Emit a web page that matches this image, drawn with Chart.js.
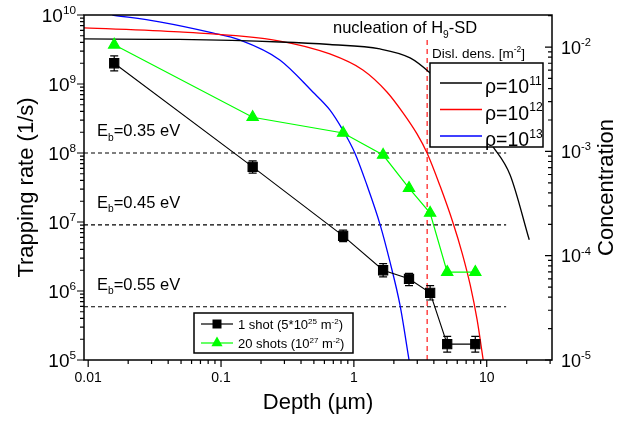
<!DOCTYPE html>
<html>
<head>
<meta charset="utf-8">
<script src="https://cdn.jsdelivr.net/npm/chart.js@4.4.1/dist/chart.umd.min.js"></script>
<style>
html, body { margin: 0; padding: 0; background: #fff; }
#contenitore { width: 626px; height: 422px; }
</style>
</head>
<body>
<div id="contenitore"><canvas id="grafico" width="626" height="422"></canvas></div>
<script>
// --- dati ---
const profondita = [0.0157, 0.173, 0.83, 1.66, 2.6, 3.75, 5.04, 8.2];
const rate1shot = [2.0e9, 6.3e7, 6.3e6, 2.0e6, 1.5e6, 9.4e5, 1.7e5, 1.7e5];
const rate1shotMin = [1.55e9, 5.1e7, 5.2e6, 1.6e6, 1.2e6, 7.4e5, 1.3e5, 1.3e5];
const rate1shotMax = [2.55e9, 7.7e7, 7.6e6, 2.5e6, 1.8e6, 1.2e6, 2.2e5, 2.2e5];
const rate20shots = [3.7e9, 3.3e8, 1.95e8, 9.35e7, 3.1e7, 1.35e7, 1.88e6, 1.88e6];

// curve di concentrazione (asse destro)
const rho11X = [0.0093, 0.0486, 0.277, 0.659, 1.571, 2.65, 3.75, 6.31, 11.2, 15.0, 20.9];
const rho11Y = [0.01196, 0.01183, 0.01119, 0.01059, 0.00959, 0.00787, 0.00564, 0.00285, 0.0011, 0.000594, 0.000142];
const rho12X = [0.0093, 0.0486, 0.277, 0.659, 1.169, 1.774, 2.344, 2.987, 3.555, 4.457, 5.58, 6.53, 7.51, 8.47, 9.41];
const rho12Y = [0.01525, 0.01396, 0.01143, 0.00859, 0.00603, 0.00371, 0.00234, 0.00147, 0.000966, 0.000465, 0.000206, 0.000106, 0.0000524, 0.0000242, 0.00001];
const rho13X = [0.0152, 0.0344, 0.0863, 0.138, 0.277, 0.491, 0.659, 0.826, 1.017, 1.253, 1.571, 1.87, 2.223, 2.602];
const rho13Y = [0.0203, 0.01742, 0.01365, 0.0117, 0.00752, 0.00371, 0.0025, 0.0016, 0.000966, 0.000476, 0.000201, 0.0000871, 0.0000337, 0.00001];

// energie di legame
const ebEtichette = ['0.35', '0.45', '0.55'];
const ebRate = [1e8, 9.1e6, 5.9e5];
const ebFine = 14;
const nucleazioneX = 3.56;

// assi
const xTick = [0.01, 0.1, 1, 10];
const xTickLabel = ['0.01', '0.1', '1', '10'];
const yEsponenti = [5, 6, 7, 8, 9, 10];
const y2Esponenti = [-5, -4, -3, -2];
const rhoEsponenti = ['11', '12', '13'];
const rhoColori = ['#000000', '#ff0000', '#0000ff'];

const FONT = '"Liberation Sans", Arial, Helvetica, sans-serif';
const X_MIN = 0.0093, X_MAX = 31;

function punti(xs, ys) {
    return xs.map((x, i) => ({ x: x, y: ys[i] }));
}

// testo con apici / pedici
function testoRicco(ctx, parti, x, y, size, align) {
    const misure = parti.map(([t, tipo]) => {
        ctx.font = (tipo ? size * 0.62 : size) + 'px ' + FONT;
        return ctx.measureText(t).width;
    });
    const tot = misure.reduce((a, b) => a + b, 0);
    let cx = align === 'right' ? x - tot : (align === 'center' ? x - tot / 2 : x);
    ctx.textAlign = 'left';
    ctx.textBaseline = 'alphabetic';
    parti.forEach(([t, tipo], i) => {
        ctx.font = (tipo ? size * 0.62 : size) + 'px ' + FONT;
        let dy = 0;
        if (tipo === 'sup') dy = -size * 0.42;
        if (tipo === 'sub') dy = size * 0.28;
        ctx.fillText(t, cx, y + dy);
        cx += misure[i];
    });
}

const barreErrore = {
    id: 'barreErrore',
    beforeDatasetDraw(chart, args) {
        if (args.index !== 0) return;
        const ctx = chart.ctx;
        const sx = chart.scales.x, sy = chart.scales.y;
        ctx.save();
        ctx.strokeStyle = '#000';
        ctx.lineWidth = 1.2;
        ctx.beginPath();
        for (let i = 0; i < profondita.length; i++) {
            const px = sx.getPixelForValue(profondita[i]);
            const y1 = sy.getPixelForValue(rate1shotMin[i]);
            const y2 = sy.getPixelForValue(rate1shotMax[i]);
            ctx.moveTo(px, y1); ctx.lineTo(px, y2);
            ctx.moveTo(px - 4, y1); ctx.lineTo(px + 4, y1);
            ctx.moveTo(px - 4, y2); ctx.lineTo(px + 4, y2);
        }
        ctx.stroke();
        ctx.restore();
    }
};

const assiPlugin = {
    id: 'assiPlugin',
    afterDatasetsDraw(chart) {
        const { ctx, chartArea: a } = chart;
        const sx = chart.scales.x, sy = chart.scales.y, sy2 = chart.scales.y2;
        ctx.save();
        ctx.fillStyle = '#000';
        ctx.strokeStyle = '#000';

        // tacche
        ctx.lineWidth = 1.2;
        ctx.beginPath();
        for (let e = 5; e <= 10; e++) {
            for (let k = 1; k <= 9; k++) {
                const v = k * Math.pow(10, e);
                if (v > sy.max * 1.001) continue;
                const py = sy.getPixelForValue(v);
                ctx.moveTo(a.left, py); ctx.lineTo(a.left - (k === 1 ? 7 : 4), py);
            }
        }
        for (let e = -3; e <= 1; e++) {
            for (let k = 1; k <= 9; k++) {
                const v = k * Math.pow(10, e);
                if (v < X_MIN || v > X_MAX) continue;
                const px = sx.getPixelForValue(v);
                ctx.moveTo(px, a.bottom); ctx.lineTo(px, a.bottom + (k === 1 ? 7 : 4));
            }
        }
        for (let e = -5; e <= -2; e++) {
            for (let k = 1; k <= 9; k++) {
                const v = k * Math.pow(10, e);
                if (v > sy2.max * 1.001) continue;
                const py = sy2.getPixelForValue(v);
                ctx.moveTo(a.right, py); ctx.lineTo(a.right - (k === 1 ? 7 : 4), py);
            }
        }
        ctx.stroke();

        // etichette
        yEsponenti.forEach(e => {
            const py = sy.getPixelForValue(Math.pow(10, e));
            testoRicco(ctx, [['10', ''], [String(e), 'sup']], a.left - 8, py + 7, 19, 'right');
        });
        y2Esponenti.forEach(e => {
            const py = sy2.getPixelForValue(Math.pow(10, e));
            testoRicco(ctx, [['10', ''], [String(e), 'sup']], a.right + 9, py + 6.5, 18, 'left');
        });
        ctx.font = '14px ' + FONT;
        ctx.textAlign = 'center';
        ctx.textBaseline = 'alphabetic';
        xTick.forEach((v, i) => {
            ctx.fillText(xTickLabel[i], sx.getPixelForValue(v), a.bottom + 22);
        });

        // titoli assi
        ctx.font = '22px ' + FONT;
        ctx.textAlign = 'center';
        ctx.textBaseline = 'middle';
        ctx.fillText('Depth (\u00b5m)', (a.left + a.right) / 2, a.bottom + 43);
        ctx.save();
        ctx.translate(27, (a.top + a.bottom) / 2);
        ctx.rotate(-Math.PI / 2);
        ctx.fillText('Trapping rate (1/s)', 0, 0);
        ctx.restore();
        ctx.save();
        ctx.translate(607, (a.top + a.bottom) / 2);
        ctx.rotate(-Math.PI / 2);
        ctx.fillText('Concentration', 0, 0);
        ctx.restore();

        // etichette energia
        ebEtichette.forEach((t, i) => {
            const py = sy.getPixelForValue(ebRate[i]);
            testoRicco(ctx, [['E', ''], ['b', 'sub'], ['=' + t + ' eV', '']], a.left + 13, py - 17, 16.5, 'left');
        });

        testoRicco(ctx, [['nucleation of H', ''], ['9', 'sub'], ['-SD', '']], 333, 33, 16.5, 'left');
        testoRicco(ctx, [['Disl. dens. [m', ''], ['-2', 'sup'], [']', '']], 432, 58, 13.5, 'left');

        // legenda in alto a destra
        ctx.fillStyle = '#fff';
        ctx.fillRect(430, 63, 113, 84);
        ctx.lineWidth = 1.5;
        ctx.strokeStyle = '#000';
        ctx.strokeRect(430, 63, 113, 84);
        rhoEsponenti.forEach((esp, i) => {
            const ry = 83 + i * 26.5;
            ctx.strokeStyle = rhoColori[i];
            ctx.lineWidth = 1.4;
            ctx.beginPath();
            ctx.moveTo(440, ry); ctx.lineTo(482, ry);
            ctx.stroke();
            ctx.fillStyle = '#000';
            testoRicco(ctx, [['\u03c1=10', ''], [esp, 'sup']], 485, ry + 10, 19.5, 'left');
        });

        // legenda in basso
        ctx.fillStyle = '#fff';
        ctx.fillRect(194, 313, 159, 40);
        ctx.strokeStyle = '#000';
        ctx.lineWidth = 1.5;
        ctx.strokeRect(194, 313, 159, 40);
        const righe = [
            { y: 324, col: '#000', testo: [['1 shot (5*10', ''], ['25', 'sup'], [' m', ''], ['-2', 'sup'], [')', '']] },
            { y: 343, col: '#00ff00', testo: [['20 shots (10', ''], ['27', 'sup'], [' m', ''], ['-2', 'sup'], [')', '']] }
        ];
        righe.forEach((r, i) => {
            ctx.strokeStyle = r.col;
            ctx.lineWidth = 1.2;
            ctx.beginPath();
            ctx.moveTo(201, r.y); ctx.lineTo(233, r.y);
            ctx.stroke();
            ctx.fillStyle = r.col;
            ctx.beginPath();
            if (i === 0) {
                ctx.rect(212.5, r.y - 4.5, 9, 9);
            } else {
                ctx.moveTo(217, r.y - 6.5);
                ctx.lineTo(222.6, r.y + 3.3);
                ctx.lineTo(211.4, r.y + 3.3);
                ctx.closePath();
            }
            ctx.fill();
            ctx.fillStyle = '#000';
            testoRicco(ctx, r.testo, 238, r.y + 5, 13, 'left');
        });

        // cornice
        ctx.strokeStyle = '#000';
        ctx.lineWidth = 1.5;
        ctx.strokeRect(a.left, a.top, a.right - a.left, a.bottom - a.top);
        ctx.restore();
    }
};

const datasets = [
    {
        label: '1 shot',
        data: punti(profondita, rate1shot),
        borderColor: '#000', backgroundColor: '#000',
        borderWidth: 1.1, pointStyle: 'rect', pointRadius: 6.5,
        yAxisID: 'y'
    },
    {
        label: '20 shots',
        data: punti(profondita, rate20shots),
        borderColor: '#00ff00', backgroundColor: '#00ff00',
        borderWidth: 1.2, pointStyle: 'triangle', pointRadius: 6.5,
        yAxisID: 'y'
    },
    {
        label: 'rho11', data: punti(rho11X, rho11Y), borderColor: rhoColori[0],
        borderWidth: 1.3, pointRadius: 0, cubicInterpolationMode: 'monotone', yAxisID: 'y2'
    },
    {
        label: 'rho12', data: punti(rho12X, rho12Y), borderColor: rhoColori[1],
        borderWidth: 1.3, pointRadius: 0, cubicInterpolationMode: 'monotone', yAxisID: 'y2'
    },
    {
        label: 'rho13', data: punti(rho13X, rho13Y), borderColor: rhoColori[2],
        borderWidth: 1.3, pointRadius: 0, cubicInterpolationMode: 'monotone', yAxisID: 'y2'
    }
];
ebRate.forEach((r, i) => {
    datasets.push({
        label: 'Eb ' + ebEtichette[i],
        data: [{ x: X_MIN, y: r }, { x: ebFine, y: r }],
        borderColor: '#000', borderWidth: 1.1, borderDash: [4, 3],
        pointRadius: 0, yAxisID: 'y'
    });
});
datasets.push({
    label: 'nucleazione',
    data: [{ x: nucleazioneX, y: 1e5 }, { x: nucleazioneX, y: 4.8e9 }],
    borderColor: '#ff0000', borderWidth: 1.1, borderDash: [5, 4],
    pointRadius: 0, yAxisID: 'y'
});

const ctx = document.getElementById('grafico').getContext('2d');
new Chart(ctx, {
    type: 'line',
    data: { datasets: datasets },
    options: {
        responsive: false,
        animation: false,
        layout: { padding: { left: 84, right: 74, top: 15, bottom: 62 } },
        scales: {
            x: { type: 'logarithmic', min: X_MIN, max: X_MAX, display: false },
            y: { type: 'logarithmic', min: 1e5, max: 1e10, display: false },
            y2: { type: 'logarithmic', min: 1e-5, max: 0.0203, display: false, position: 'right' }
        },
        plugins: {
            legend: { display: false },
            tooltip: { enabled: false }
        }
    },
    plugins: [barreErrore, assiPlugin]
});
</script>
</body>
</html>
